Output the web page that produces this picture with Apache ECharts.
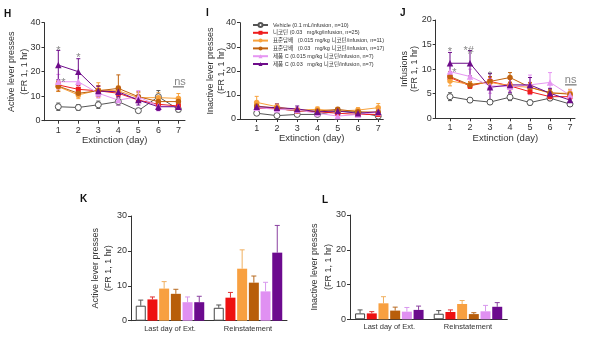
<!DOCTYPE html>
<html><head><meta charset="utf-8">
<script src="https://cdn.jsdelivr.net/npm/echarts@6/dist/echarts.min.js"></script>
<style>html,body{margin:0;padding:0;background:#fff}#c{width:593px;height:341px}</style>
</head><body><div id="c"></div>
<script>
// ---------- data ----------
const days = [1, 2, 3, 4, 5, 6, 7];
const groupNames = ['Vehicle (0.1 mL/infusion, n=10)', '니코틴 (0.03   mg/kg/infusion, n=25)', '표준담배   (0.015 mg/kg 니코틴/infusion, n=11)', '표준담배   (0.03   mg/kg 니코틴/infusion, n=17)', '제품 C (0.015 mg/kg 니코틴/infusion, n=7)', '제품 C (0.03   mg/kg 니코틴/infusion, n=7)'];
const phaseCats = ['Last day of Ext.', 'Reinstatement'];

// H: active lever presses (mean, SEM)
const vehicleActive  = [5.7, 5.4, 6.5, 7.8, 4.1, 9.8, 4.6];
const nicotineActive = [14.6, 12.8, 12.2, 11.2, 8.4, 6.7, 6.0];
const std015Active   = [13.9, 10.5, 12.5, 12.2, 9.4, 9.4, 9.1];
const std03Active    = [14.1, 11.2, 12.2, 13.2, 9.8, 7.8, 7.8];
const c015Active     = [15.9, 15.9, 11.2, 8.4, 9.8, 6.0, 5.7];
const c03Active      = [22.7, 20.0, 12.1, 11.8, 8.4, 5.7, 5.7];
const vehicleActiveErr  = [1.5, 1.2, 1.5, 1.5, 0.6, 2.5, 1.0];
const nicotineActiveErr = [1.5, 1.5, 2.0, 1.5, 1.0, 1.0, 0.8];
const std015ActiveErr   = [2.0, 1.5, 3.0, 2.0, 2.0, 2.0, 2.0];
const std03ActiveErr    = [2.0, 1.5, 2.0, 5.5, 2.0, 2.0, 1.5];
const c015ActiveErr     = [3.0, 3.0, 2.0, 2.0, 2.5, 2.0, 1.5];
const c03ActiveErr      = [6.0, 5.3, 2.0, 2.0, 2.0, 1.5, 1.5];

// I: inactive lever presses
const vehicleInactive  = [2.4, 1.4, 1.9, 1.9, 3.3, 2.8, 1.2];
const nicotineInactive = [4.4, 4.4, 3.3, 3.0, 2.4, 1.9, 1.9];
const std015Inactive   = [6.9, 5.1, 3.7, 4.0, 3.3, 3.7, 4.7];
const std03Inactive    = [5.4, 4.4, 3.3, 3.3, 4.0, 3.0, 2.8];
const c015Inactive     = [4.7, 4.0, 3.7, 2.4, 1.2, 1.9, 2.8];
const c03Inactive      = [5.1, 4.7, 4.2, 3.0, 3.3, 2.4, 3.0];
const vehicleInactiveErr  = [0.6, 0.5, 0.6, 0.6, 0.8, 0.6, 0.5];
const nicotineInactiveErr = [0.8, 0.8, 0.6, 0.6, 0.5, 0.5, 0.5];
const std015InactiveErr   = [2.5, 1.2, 1.0, 1.0, 0.8, 1.0, 1.7];
const std03InactiveErr    = [1.2, 1.0, 0.8, 0.8, 0.8, 0.7, 0.7];
const c015InactiveErr     = [1.0, 1.0, 1.0, 0.8, 0.6, 0.6, 1.0];
const c03InactiveErr      = [1.2, 1.5, 1.2, 0.8, 1.0, 0.6, 0.8];

// J: infusions
const vehicleInf  = [4.4, 3.7, 3.3, 4.3, 3.2, 4.1, 2.9];
const nicotineInf = [8.3, 6.6, 7.5, 6.6, 5.4, 4.4, 4.4];
const std015Inf   = [7.6, 6.9, 7.3, 6.6, 6.3, 5.1, 5.1];
const std03Inf    = [8.5, 6.8, 7.5, 8.3, 6.3, 5.2, 4.9];
const c015Inf     = [9.5, 8.5, 6.6, 6.4, 6.8, 7.3, 4.7];
const c03Inf      = [11.2, 11.2, 6.3, 6.8, 6.8, 5.1, 3.7];
const vehicleInfErr  = [0.8, 0.5, 0.5, 0.7, 0.5, 0.5, 0.5];
const nicotineInfErr = [0.8, 0.5, 0.8, 0.6, 0.5, 0.5, 0.5];
const std015InfErr   = [1.0, 0.6, 1.0, 0.8, 0.8, 0.8, 0.8];
const std03InfErr    = [1.0, 0.6, 1.0, 1.0, 1.0, 0.6, 0.6];
const c015InfErr     = [1.5, 1.5, 1.5, 1.5, 2.0, 2.0, 1.0];
const c03InfErr      = [2.2, 2.6, 2.8, 1.5, 1.5, 1.0, 0.8];

// K: active lever presses, bars [Last day, Reinstatement]
const vehicleK  = [4.3, 3.7],  vehicleKErr  = [1.6, 0.8];
const nicotineK = [6.1, 6.6],  nicotineKErr = [0.7, 1.5];
const std015K   = [9.2, 14.9], std015KErr   = [2.0, 5.4];
const std03K    = [7.7, 10.9], std03KErr    = [1.3, 1.9];
const c015K     = [5.3, 8.4],  c015KErr     = [1.5, 2.6];
const c03K      = [5.3, 19.5], c03KErr      = [1.7, 7.8];

// L: inactive lever presses, bars
const vehicleL  = [1.7, 1.6], vehicleLErr  = [1.0, 0.9];
const nicotineL = [1.7, 2.1], nicotineLErr = [0.5, 0.6];
const std015L   = [4.6, 4.4], std015LErr   = [1.9, 1.0];
const std03L    = [2.5, 1.5], std03LErr    = [1.0, 0.4];
const c015L     = [2.2, 2.3], c015LErr     = [1.2, 1.7];
const c03L      = [2.7, 3.6], c03LErr      = [1.1, 1.2];

// axis titles
const yTitleActive = ['Active lever presses', '(FR 1, 1 hr)'];
const yTitleInactive = ['Inactive lever presses', '(FR 1, 1 hr)'];
const yTitleInf = ['Infusions', '(FR 1, 1 hr)'];

// annotations [x, y, text]
const hAnnot = [[1, 28.3, '*'], [2, 25.5, '*'], [1.26, 15.3, '*'], [7.08, 15.8, 'ns']];
const hNsLine = [[6.73, 13.8], [7.28, 13.8]];
const jAnnot = [[1, 13.5, '*'], [1.93, 13.7, '*#'], [3, 8.7, '*'], [1.22, 9.3, '*'], [7.03, 7.8, 'ns']];
const jNsLine = [[6.75, 6.8], [7.33, 6.8]];

// ---------- styles ----------
const FONT = "'Liberation Sans', Arial, 'Noto Sans CJK KR', sans-serif";
const lineColors = ['#555555', '#ee1c1c', '#f8a23c', '#c0620e', '#e696f2', '#6e0c8a'];
const barColors  = ['#ffffff', '#ee1010', '#f8a040', '#b85e0a', '#e090f2', '#6c0a8e'];
const errColorsBar = ['#555555', '#e03030', '#f0b060', '#b86a20', '#d898ee', '#8a40a0'];
const symbols = ['circle', 'rect', 'circle', 'circle', 'triangle', 'triangle'];
const symSizes = [6, 5, 5.5, 5.5, 6.5, 6.5];

const activeSets = [vehicleActive, nicotineActive, std015Active, std03Active, c015Active, c03Active];
const activeErrs = [vehicleActiveErr, nicotineActiveErr, std015ActiveErr, std03ActiveErr, c015ActiveErr, c03ActiveErr];
const inactiveSets = [vehicleInactive, nicotineInactive, std015Inactive, std03Inactive, c015Inactive, c03Inactive];
const inactiveErrs = [vehicleInactiveErr, nicotineInactiveErr, std015InactiveErr, std03InactiveErr, c015InactiveErr, c03InactiveErr];
const infSets = [vehicleInf, nicotineInf, std015Inf, std03Inf, c015Inf, c03Inf];
const infErrs = [vehicleInfErr, nicotineInfErr, std015InfErr, std03InfErr, c015InfErr, c03InfErr];
const kSets = [vehicleK, nicotineK, std015K, std03K, c015K, c03K];
const kErrs = [vehicleKErr, nicotineKErr, std015KErr, std03KErr, c015KErr, c03KErr];
const lSets = [vehicleL, nicotineL, std015L, std03L, c015L, c03L];
const lErrs = [vehicleLErr, nicotineLErr, std015LErr, std03LErr, c015LErr, c03LErr];

const axisLine = { show: true, lineStyle: { color: '#333', width: 1 } };
const axisTick = { show: true, inside: false, length: 3, lineStyle: { color: '#333', width: 1 } };
const tickLabel = { color: '#333', fontSize: 9, fontFamily: FONT };

function dayAxis(idx, min, max) {
  return {
    type: 'value', gridIndex: idx, min: min, max: max,
    axisLine: axisLine,
    axisTick: Object.assign({}, axisTick, { customValues: days }),
    axisLabel: Object.assign({}, tickLabel, { customValues: days, margin: 5 }),
    splitLine: { show: false },
    name: 'Extinction (day)', nameLocation: 'middle', nameGap: 15, nameMoveOverlap: false,
    nameTextStyle: { color: '#333', fontSize: 9.5, fontFamily: FONT }
  };
}
function valAxis(idx, max, interval) {
  return {
    type: 'value', gridIndex: idx, min: 0, max: max, interval: interval,
    axisLine: axisLine, axisTick: axisTick,
    axisLabel: Object.assign({}, tickLabel, { margin: 4 }),
    splitLine: { show: false }
  };
}
function catAxis(idx) {
  return {
    type: 'category', gridIndex: idx, data: phaseCats,
    axisLine: axisLine, axisTick: { show: false },
    axisLabel: { color: '#333', fontSize: 7.5, fontFamily: FONT, margin: 4 }
  };
}

const series = [];
function errSeries(idx, pts, color, capHalf, both, offset) {
  series.push({
    type: 'custom', xAxisIndex: idx, yAxisIndex: idx, z: 1, silent: true,
    data: pts,
    renderItem: function (params, api) {
      const pLo = api.coord([api.value(0), api.value(1)]);
      const pHi = api.coord([api.value(0), api.value(2)]);
      const cx = pLo[0] + (offset || 0);
      const st = { stroke: color, lineWidth: 1, fill: null };
      const ch = [
        { type: 'line', shape: { x1: cx, y1: pLo[1], x2: cx, y2: pHi[1] }, style: st },
        { type: 'line', shape: { x1: cx - capHalf, y1: pHi[1], x2: cx + capHalf, y2: pHi[1] }, style: st }
      ];
      if (both) ch.push({ type: 'line', shape: { x1: cx - capHalf, y1: pLo[1], x2: cx + capHalf, y2: pLo[1] }, style: st });
      return { type: 'group', children: ch };
    }
  });
}
function linePanel(idx, sets, errs) {
  sets.forEach(function (vals, i) {
    errSeries(idx, days.map(function (d, k) { return [d, vals[k] - errs[i][k], vals[k] + errs[i][k]]; }), lineColors[i], 2, true, 0);
  });
  sets.forEach(function (vals, i) {
    series.push({
      type: 'line', name: groupNames[i], xAxisIndex: idx, yAxisIndex: idx, z: 3,
      data: days.map(function (d, k) { return [d, vals[k]]; }),
      symbol: symbols[i], symbolSize: symSizes[i], showSymbol: true,
      lineStyle: { color: lineColors[i], width: 1 },
      itemStyle: i === 0 ? { color: '#fff', borderColor: '#555', borderWidth: 1 } : { color: lineColors[i], borderWidth: 0 },
      emphasis: { disabled: true }, animation: false
    });
  });
}
const BAR_W = 10, BAR_GAP = 0.17;
function barPanel(idx, sets, errs) {
  sets.forEach(function (vals, i) {
    series.push({
      type: 'bar', name: groupNames[i], xAxisIndex: idx, yAxisIndex: idx, z: 3,
      data: vals, barWidth: BAR_W, barGap: (BAR_GAP * 100) + '%',
      itemStyle: i === 0 ? { color: '#fff', borderColor: '#444', borderWidth: 1 } : { color: barColors[i] },
      emphasis: { disabled: true }, animation: false
    });
  });
  sets.forEach(function (vals, i) {
    const off = (i - 2.5) * BAR_W * (1 + BAR_GAP);
    errSeries(idx, vals.map(function (v, k) { return [k, v, v + errs[i][k]]; }), errColorsBar[i], 2.5, false, off);
  });
}
function annotPanel(idx, ann, nsLine) {
  series.push({
    type: 'scatter', xAxisIndex: idx, yAxisIndex: idx, z: 5, symbolSize: 1,
    itemStyle: { color: 'rgba(0,0,0,0)' }, data: ann, silent: true,
    label: { show: true, position: 'inside', formatter: function (p) { return p.value[2]; },
      color: '#666', fontSize: 11, fontFamily: FONT }
  });
  series.push({
    type: 'line', xAxisIndex: idx, yAxisIndex: idx, z: 5, data: nsLine, showSymbol: false, symbol: 'none',
    lineStyle: { color: '#555', width: 1 }, silent: true
  });
}

linePanel(0, activeSets, activeErrs);
linePanel(1, inactiveSets, inactiveErrs);
linePanel(2, infSets, infErrs);
barPanel(3, kSets, kErrs);
barPanel(4, lSets, lErrs);
annotPanel(0, hAnnot, hNsLine);
annotPanel(2, jAnnot, jNsLine);

const letter = function (t, x, y) {
  return { type: 'text', left: x, top: y, style: { text: t, font: 'bold 10px ' + FONT, fill: '#111' } };
};
const vtext = function (t, x, y) {
  return { type: 'text', x: x, y: y, rotation: Math.PI / 2,
    style: { text: t, font: '9px ' + FONT, fill: '#333', align: 'center', verticalAlign: 'middle' } };
};
function yTitle(lines, x1, x2, y) { return [vtext(lines[0], x1, y), vtext(lines[1], x2, y)]; }

const option = {
  animation: false,
  backgroundColor: '#fff',
  textStyle: { fontFamily: FONT },
  grid: [
    { left: 44.5, top: 22.7, width: 140.5, height: 98 },
    { left: 240, top: 22.7, width: 143.3, height: 96.3 },
    { left: 435.7, top: 20, width: 139.3, height: 98.3 },
    { left: 131, top: 216, width: 156, height: 104.7 },
    { left: 350, top: 215, width: 157.3, height: 104.3 }
  ],
  xAxis: [dayAxis(0, 0.31, 7.33), dayAxis(1, 0.176, 7.25), dayAxis(2, 0.285, 7.25), catAxis(3), catAxis(4)],
  yAxis: [valAxis(0, 40, 10), valAxis(1, 40, 10), valAxis(2, 20, 5), valAxis(3, 30, 10), valAxis(4, 30, 10)],
  legend: {
    data: groupNames, orient: 'vertical', left: 247, top: 17,
    itemWidth: 15, itemHeight: 5, itemGap: 1.8,
    textStyle: { fontSize: 5.5, lineHeight: 6, color: '#333', fontFamily: FONT },
    selectedMode: false
  },
  graphic: [letter('H', 4, 9), letter('I', 206, 8), letter('J', 400, 8), letter('K', 80, 194), letter('L', 322, 195)]
    .concat(yTitle(yTitleActive, 11.5, 24.7, 71.7))
    .concat(yTitle(yTitleInactive, 210.3, 221.5, 70.9))
    .concat(yTitle(yTitleInf, 405, 414.5, 69))
    .concat(yTitle(yTitleActive, 95.7, 109, 268.3))
    .concat(yTitle(yTitleInactive, 315, 328.3, 267)),
  series: series
};
const chart = echarts.init(document.getElementById('c'), null, { renderer: 'canvas' });
chart.setOption(option);
</script></body></html>
